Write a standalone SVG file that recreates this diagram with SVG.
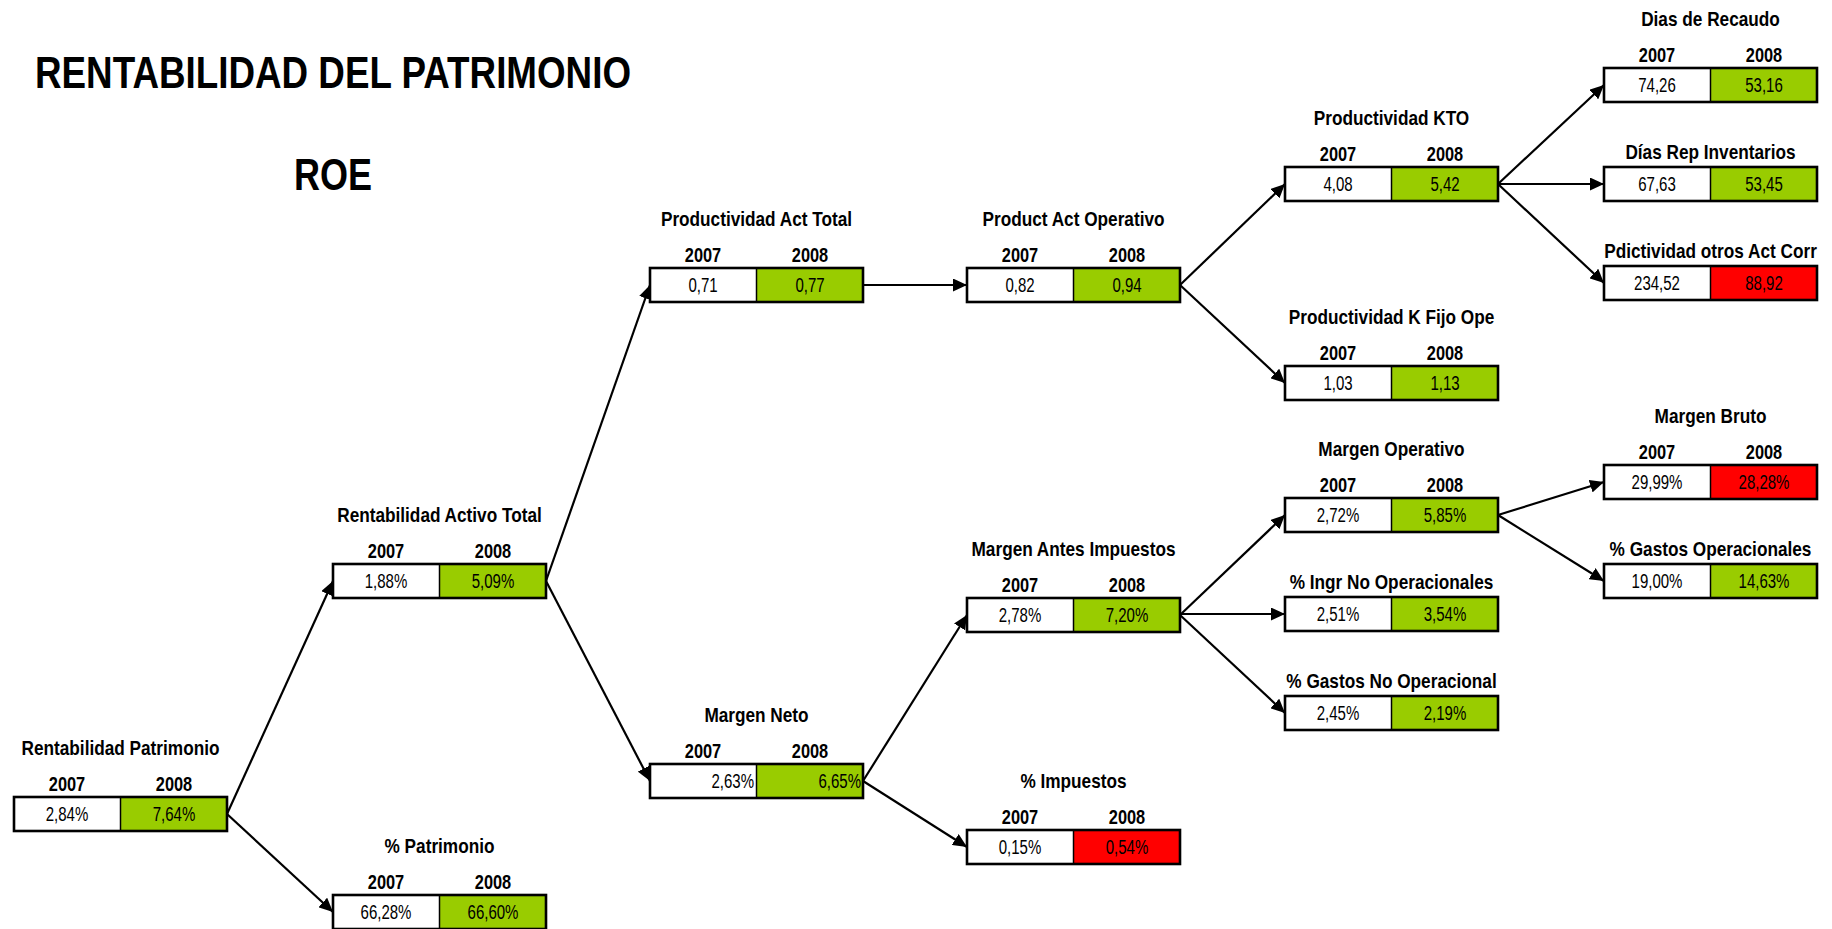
<svg xmlns="http://www.w3.org/2000/svg" width="1832" height="929" viewBox="0 0 1832 929">
<style>
text{font-family:"Liberation Sans",Arial,sans-serif;fill:#000}
.h{font-weight:bold;font-size:44px}
.t,.y{transform-box:fill-box;transform:scaleX(0.82)}
.v,.vr{transform-box:fill-box;transform:scaleX(0.77)}
.t{font-weight:bold;font-size:21px;text-anchor:middle;transform-origin:50% 50%}
.y{font-weight:bold;font-size:20px;text-anchor:middle;transform-origin:50% 50%}
.v{font-size:19.5px;text-anchor:middle;transform-origin:50% 50%}
.vr{font-size:19.5px;text-anchor:end;transform-origin:100% 50%}
.cw{fill:#fff;stroke:none}
.cg{fill:#99CC00;stroke:none}
.cr{fill:#FF0000;stroke:none}
.bd{fill:none;stroke:#000;stroke-width:2.6}
.dv{stroke:#000;stroke-width:1.5}
.cn line{stroke:#000;stroke-width:2.2;marker-end:url(#ah)}
</style>
<defs>
<marker id="ah" markerUnits="userSpaceOnUse" markerWidth="15" markerHeight="13" refX="14" refY="6.5" orient="auto">
<path d="M0,0 L14,6.5 L0,13 z" fill="#000"/>
</marker>
</defs>
<rect width="1832" height="929" fill="#fff"/>
<text class="h" x="35" y="88" textLength="596" lengthAdjust="spacingAndGlyphs">RENTABILIDAD DEL PATRIMONIO</text>
<text class="h" x="294" y="190" textLength="78" lengthAdjust="spacingAndGlyphs">ROE</text>

<g class="cn" id="connectors">
<line x1="227" y1="814" x2="333" y2="581"/>
<line x1="227" y1="814" x2="333" y2="912"/>
<line x1="546" y1="581" x2="650" y2="285"/>
<line x1="546" y1="581" x2="650" y2="781"/>
<line x1="863" y1="285" x2="967" y2="285"/>
<line x1="863" y1="781" x2="967" y2="615"/>
<line x1="863" y1="781" x2="967" y2="847"/>
<line x1="1180" y1="285" x2="1285" y2="184"/>
<line x1="1180" y1="285" x2="1285" y2="383"/>
<line x1="1180" y1="615" x2="1285" y2="515"/>
<line x1="1180" y1="614" x2="1285" y2="614"/>
<line x1="1180" y1="615" x2="1285" y2="713"/>
<line x1="1498" y1="184" x2="1604" y2="85"/>
<line x1="1498" y1="184" x2="1604" y2="184"/>
<line x1="1498" y1="184" x2="1604" y2="283"/>
<line x1="1498" y1="515" x2="1604" y2="482"/>
<line x1="1498" y1="515" x2="1604" y2="581"/>
</g>

<g id="rentabilidad-patrimonio" transform="translate(14,797)">
<text class="t" x="106.5" y="-42">Rentabilidad Patrimonio</text>
<text class="y" x="53" y="-6">2007</text><text class="y" x="160" y="-6">2008</text>
<rect class="cw" x="0" y="0" width="106.5" height="34"/><rect class="cg" x="106.5" y="0" width="106.5" height="34"/>
<line class="dv" x1="106.5" y1="0" x2="106.5" y2="34"/><rect class="bd" x="0" y="0" width="213" height="34"/>
<text class="v" x="53" y="24">2,84%</text><text class="v" x="160" y="24">7,64%</text>
</g>

<g id="pct-patrimonio" transform="translate(333,895)">
<text class="t" x="106.5" y="-42">% Patrimonio</text>
<text class="y" x="53" y="-6">2007</text><text class="y" x="160" y="-6">2008</text>
<rect class="cw" x="0" y="0" width="106.5" height="34"/><rect class="cg" x="106.5" y="0" width="106.5" height="34"/>
<line class="dv" x1="106.5" y1="0" x2="106.5" y2="34"/><rect class="bd" x="0" y="0" width="213" height="34"/>
<text class="v" x="53" y="24">66,28%</text><text class="v" x="160" y="24">66,60%</text>
</g>

<g id="rentabilidad-activo-total" transform="translate(333,564)">
<text class="t" x="106.5" y="-42">Rentabilidad Activo Total</text>
<text class="y" x="53" y="-6">2007</text><text class="y" x="160" y="-6">2008</text>
<rect class="cw" x="0" y="0" width="106.5" height="34"/><rect class="cg" x="106.5" y="0" width="106.5" height="34"/>
<line class="dv" x1="106.5" y1="0" x2="106.5" y2="34"/><rect class="bd" x="0" y="0" width="213" height="34"/>
<text class="v" x="53" y="24">1,88%</text><text class="v" x="160" y="24">5,09%</text>
</g>

<g id="productividad-act-total" transform="translate(650,268)">
<text class="t" x="106.5" y="-42">Productividad Act Total</text>
<text class="y" x="53" y="-6">2007</text><text class="y" x="160" y="-6">2008</text>
<rect class="cw" x="0" y="0" width="106.5" height="34"/><rect class="cg" x="106.5" y="0" width="106.5" height="34"/>
<line class="dv" x1="106.5" y1="0" x2="106.5" y2="34"/><rect class="bd" x="0" y="0" width="213" height="34"/>
<text class="v" x="53" y="24">0,71</text><text class="v" x="160" y="24">0,77</text>
</g>

<g id="margen-neto" transform="translate(650,764)">
<text class="t" x="106.5" y="-42">Margen Neto</text>
<text class="y" x="53" y="-6">2007</text><text class="y" x="160" y="-6">2008</text>
<rect class="cw" x="0" y="0" width="106.5" height="34"/><rect class="cg" x="106.5" y="0" width="106.5" height="34"/>
<line class="dv" x1="106.5" y1="0" x2="106.5" y2="34"/><rect class="bd" x="0" y="0" width="213" height="34"/>
<text class="vr" x="104" y="24">2,63%</text><text class="vr" x="211" y="24">6,65%</text>
</g>

<g id="product-act-operativo" transform="translate(967,268)">
<text class="t" x="106.5" y="-42">Product Act Operativo</text>
<text class="y" x="53" y="-6">2007</text><text class="y" x="160" y="-6">2008</text>
<rect class="cw" x="0" y="0" width="106.5" height="34"/><rect class="cg" x="106.5" y="0" width="106.5" height="34"/>
<line class="dv" x1="106.5" y1="0" x2="106.5" y2="34"/><rect class="bd" x="0" y="0" width="213" height="34"/>
<text class="v" x="53" y="24">0,82</text><text class="v" x="160" y="24">0,94</text>
</g>

<g id="margen-antes-impuestos" transform="translate(967,598)">
<text class="t" x="106.5" y="-42">Margen Antes Impuestos</text>
<text class="y" x="53" y="-6">2007</text><text class="y" x="160" y="-6">2008</text>
<rect class="cw" x="0" y="0" width="106.5" height="34"/><rect class="cg" x="106.5" y="0" width="106.5" height="34"/>
<line class="dv" x1="106.5" y1="0" x2="106.5" y2="34"/><rect class="bd" x="0" y="0" width="213" height="34"/>
<text class="v" x="53" y="24">2,78%</text><text class="v" x="160" y="24">7,20%</text>
</g>

<g id="pct-impuestos" transform="translate(967,830)">
<text class="t" x="106.5" y="-42">% Impuestos</text>
<text class="y" x="53" y="-6">2007</text><text class="y" x="160" y="-6">2008</text>
<rect class="cw" x="0" y="0" width="106.5" height="34"/><rect class="cr" x="106.5" y="0" width="106.5" height="34"/>
<line class="dv" x1="106.5" y1="0" x2="106.5" y2="34"/><rect class="bd" x="0" y="0" width="213" height="34"/>
<text class="v" x="53" y="24">0,15%</text><text class="v" x="160" y="24">0,54%</text>
</g>

<g id="productividad-kto" transform="translate(1285,167)">
<text class="t" x="106.5" y="-42">Productividad KTO</text>
<text class="y" x="53" y="-6">2007</text><text class="y" x="160" y="-6">2008</text>
<rect class="cw" x="0" y="0" width="106.5" height="34"/><rect class="cg" x="106.5" y="0" width="106.5" height="34"/>
<line class="dv" x1="106.5" y1="0" x2="106.5" y2="34"/><rect class="bd" x="0" y="0" width="213" height="34"/>
<text class="v" x="53" y="24">4,08</text><text class="v" x="160" y="24">5,42</text>
</g>

<g id="productividad-k-fijo-ope" transform="translate(1285,366)">
<text class="t" x="106.5" y="-42">Productividad K Fijo Ope</text>
<text class="y" x="53" y="-6">2007</text><text class="y" x="160" y="-6">2008</text>
<rect class="cw" x="0" y="0" width="106.5" height="34"/><rect class="cg" x="106.5" y="0" width="106.5" height="34"/>
<line class="dv" x1="106.5" y1="0" x2="106.5" y2="34"/><rect class="bd" x="0" y="0" width="213" height="34"/>
<text class="v" x="53" y="24">1,03</text><text class="v" x="160" y="24">1,13</text>
</g>

<g id="margen-operativo" transform="translate(1285,498)">
<text class="t" x="106.5" y="-42">Margen Operativo</text>
<text class="y" x="53" y="-6">2007</text><text class="y" x="160" y="-6">2008</text>
<rect class="cw" x="0" y="0" width="106.5" height="34"/><rect class="cg" x="106.5" y="0" width="106.5" height="34"/>
<line class="dv" x1="106.5" y1="0" x2="106.5" y2="34"/><rect class="bd" x="0" y="0" width="213" height="34"/>
<text class="v" x="53" y="24">2,72%</text><text class="v" x="160" y="24">5,85%</text>
</g>

<g id="pct-ingr-no-operacionales" transform="translate(1285,597)">
<text class="t" x="106.5" y="-8">% Ingr No Operacionales</text>
<rect class="cw" x="0" y="0" width="106.5" height="34"/><rect class="cg" x="106.5" y="0" width="106.5" height="34"/>
<line class="dv" x1="106.5" y1="0" x2="106.5" y2="34"/><rect class="bd" x="0" y="0" width="213" height="34"/>
<text class="v" x="53" y="24">2,51%</text><text class="v" x="160" y="24">3,54%</text>
</g>

<g id="pct-gastos-no-operacional" transform="translate(1285,696)">
<text class="t" x="106.5" y="-8">% Gastos No Operacional</text>
<rect class="cw" x="0" y="0" width="106.5" height="34"/><rect class="cg" x="106.5" y="0" width="106.5" height="34"/>
<line class="dv" x1="106.5" y1="0" x2="106.5" y2="34"/><rect class="bd" x="0" y="0" width="213" height="34"/>
<text class="v" x="53" y="24">2,45%</text><text class="v" x="160" y="24">2,19%</text>
</g>

<g id="dias-de-recaudo" transform="translate(1604,68)">
<text class="t" x="106.5" y="-42">Dias de Recaudo</text>
<text class="y" x="53" y="-6">2007</text><text class="y" x="160" y="-6">2008</text>
<rect class="cw" x="0" y="0" width="106.5" height="34"/><rect class="cg" x="106.5" y="0" width="106.5" height="34"/>
<line class="dv" x1="106.5" y1="0" x2="106.5" y2="34"/><rect class="bd" x="0" y="0" width="213" height="34"/>
<text class="v" x="53" y="24">74,26</text><text class="v" x="160" y="24">53,16</text>
</g>

<g id="dias-rep-inventarios" transform="translate(1604,167)">
<text class="t" x="106.5" y="-8">Días Rep Inventarios</text>
<rect class="cw" x="0" y="0" width="106.5" height="34"/><rect class="cg" x="106.5" y="0" width="106.5" height="34"/>
<line class="dv" x1="106.5" y1="0" x2="106.5" y2="34"/><rect class="bd" x="0" y="0" width="213" height="34"/>
<text class="v" x="53" y="24">67,63</text><text class="v" x="160" y="24">53,45</text>
</g>

<g id="pdictividad-otros-act-corr" transform="translate(1604,266)">
<text class="t" x="106.5" y="-8">Pdictividad otros Act Corr</text>
<rect class="cw" x="0" y="0" width="106.5" height="34"/><rect class="cr" x="106.5" y="0" width="106.5" height="34"/>
<line class="dv" x1="106.5" y1="0" x2="106.5" y2="34"/><rect class="bd" x="0" y="0" width="213" height="34"/>
<text class="v" x="53" y="24">234,52</text><text class="v" x="160" y="24">88,92</text>
</g>

<g id="margen-bruto" transform="translate(1604,465)">
<text class="t" x="106.5" y="-42">Margen Bruto</text>
<text class="y" x="53" y="-6">2007</text><text class="y" x="160" y="-6">2008</text>
<rect class="cw" x="0" y="0" width="106.5" height="34"/><rect class="cr" x="106.5" y="0" width="106.5" height="34"/>
<line class="dv" x1="106.5" y1="0" x2="106.5" y2="34"/><rect class="bd" x="0" y="0" width="213" height="34"/>
<text class="v" x="53" y="24">29,99%</text><text class="v" x="160" y="24">28,28%</text>
</g>

<g id="pct-gastos-operacionales" transform="translate(1604,564)">
<text class="t" x="106.5" y="-8">% Gastos Operacionales</text>
<rect class="cw" x="0" y="0" width="106.5" height="34"/><rect class="cg" x="106.5" y="0" width="106.5" height="34"/>
<line class="dv" x1="106.5" y1="0" x2="106.5" y2="34"/><rect class="bd" x="0" y="0" width="213" height="34"/>
<text class="v" x="53" y="24">19,00%</text><text class="v" x="160" y="24">14,63%</text>
</g>
</svg>
